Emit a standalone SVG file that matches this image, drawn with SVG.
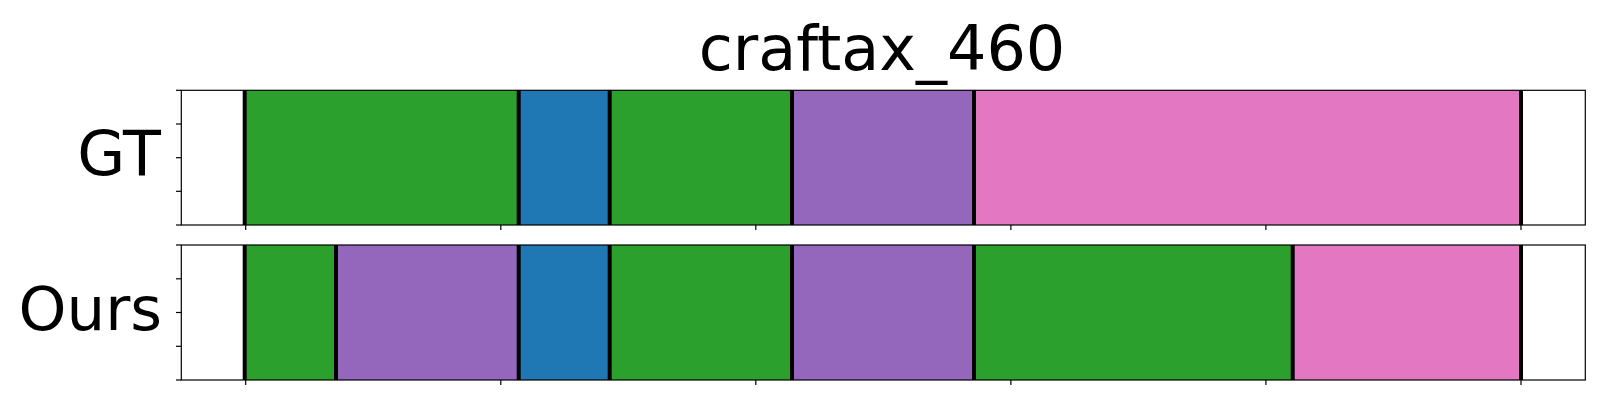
<svg xmlns="http://www.w3.org/2000/svg" width="1600" height="400" viewBox="0 0 1600 400">
<style>
.lbl{font-family:"DejaVu Sans",sans-serif;fill:#000}
.g{fill:#2ca02c}.b{fill:#1f77b4}.p{fill:#9467bd}.k{fill:#e377c2}
.sep{stroke:#000;stroke-width:4}
.ax{fill:none;stroke:#000;stroke-width:1.2}
.tk{stroke:#000;stroke-width:1.2}
</style>
<rect width="1600" height="400" fill="#fff"/>
<text id="title" class="lbl" x="882" y="70" font-size="62" text-anchor="middle">craftax_460</text>
<g id="gt">
<rect class="g" x="244.7" y="90.3" width="274" height="134.7"/>
<rect class="b" x="518.7" y="90.3" width="91" height="134.7"/>
<rect class="g" x="609.7" y="90.3" width="182.3" height="134.7"/>
<rect class="p" x="792" y="90.3" width="182" height="134.7"/>
<rect class="k" x="974" y="90.3" width="547" height="134.7"/>
<g class="sep">
<line x1="244.7" y1="90.3" x2="244.7" y2="225"/>
<line x1="518.7" y1="90.3" x2="518.7" y2="225"/>
<line x1="609.7" y1="90.3" x2="609.7" y2="225"/>
<line x1="792" y1="90.3" x2="792" y2="225"/>
<line x1="974" y1="90.3" x2="974" y2="225"/>
<line x1="1521" y1="90.3" x2="1521" y2="225"/>
</g>
<rect class="ax" x="181.3" y="90.3" width="1404" height="134.7"/>
<g class="tk">
<line x1="176" y1="90.3" x2="181.3" y2="90.3"/>
<line x1="176" y1="124" x2="181.3" y2="124"/>
<line x1="176" y1="157.7" x2="181.3" y2="157.7"/>
<line x1="176" y1="191.3" x2="181.3" y2="191.3"/>
<line x1="176" y1="225" x2="181.3" y2="225"/>
<line x1="245.7" y1="225" x2="245.7" y2="230"/>
<line x1="500.8" y1="225" x2="500.8" y2="230"/>
<line x1="755.8" y1="225" x2="755.8" y2="230"/>
<line x1="1010.9" y1="225" x2="1010.9" y2="230"/>
<line x1="1265.9" y1="225" x2="1265.9" y2="230"/>
<line x1="1521" y1="225" x2="1521" y2="230"/>
</g>
<text class="lbl" x="161" y="175" font-size="62" text-anchor="end">GT</text>
</g>
<g id="ours">
<rect class="g" x="244.7" y="245" width="91.3" height="135"/>
<rect class="p" x="336" y="245" width="182.7" height="135"/>
<rect class="b" x="518.7" y="245" width="91" height="135"/>
<rect class="g" x="609.7" y="245" width="182.3" height="135"/>
<rect class="p" x="792" y="245" width="182" height="135"/>
<rect class="g" x="974" y="245" width="318.7" height="135"/>
<rect class="k" x="1292.7" y="245" width="228.3" height="135"/>
<g class="sep">
<line x1="244.7" y1="245" x2="244.7" y2="380"/>
<line x1="336" y1="245" x2="336" y2="380"/>
<line x1="518.7" y1="245" x2="518.7" y2="380"/>
<line x1="609.7" y1="245" x2="609.7" y2="380"/>
<line x1="792" y1="245" x2="792" y2="380"/>
<line x1="974" y1="245" x2="974" y2="380"/>
<line x1="1292.7" y1="245" x2="1292.7" y2="380"/>
<line x1="1521" y1="245" x2="1521" y2="380"/>
</g>
<rect class="ax" x="181.3" y="245" width="1404" height="135"/>
<g class="tk">
<line x1="176" y1="245" x2="181.3" y2="245"/>
<line x1="176" y1="278.8" x2="181.3" y2="278.8"/>
<line x1="176" y1="312.5" x2="181.3" y2="312.5"/>
<line x1="176" y1="346.3" x2="181.3" y2="346.3"/>
<line x1="176" y1="380" x2="181.3" y2="380"/>
<line x1="245.7" y1="380" x2="245.7" y2="385"/>
<line x1="500.8" y1="380" x2="500.8" y2="385"/>
<line x1="755.8" y1="380" x2="755.8" y2="385"/>
<line x1="1010.9" y1="380" x2="1010.9" y2="385"/>
<line x1="1265.9" y1="380" x2="1265.9" y2="385"/>
<line x1="1521" y1="380" x2="1521" y2="385"/>
</g>
<text class="lbl" x="162" y="330" font-size="61" text-anchor="end">Ours</text>
</g>
</svg>
